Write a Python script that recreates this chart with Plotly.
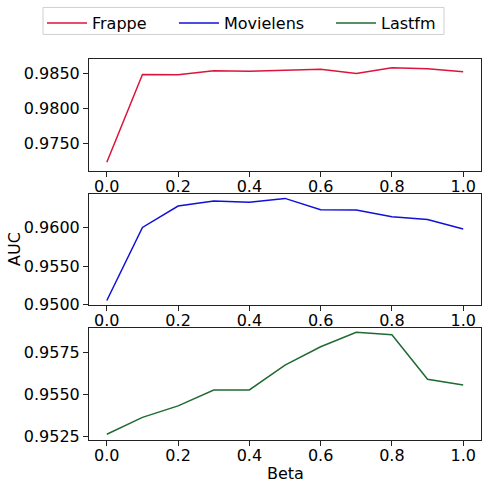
import plotly.graph_objects as go

# Beta values shared by all three datasets
beta = [0.0, 0.1, 0.2, 0.3, 0.4, 0.5, 0.6, 0.7, 0.8, 0.9, 1.0]

# AUC
frappe_auc = [0.97229, 0.98481, 0.98477, 0.98534, 0.98529, 0.98548,
              0.98557, 0.98496, 0.98577, 0.98563, 0.98520]
movielens_auc = [0.95056, 0.96000, 0.96277, 0.96341, 0.96324, 0.96375,
                 0.96229, 0.96225, 0.96138, 0.96103, 0.95979]
lastfm_auc = [0.95264, 0.95364, 0.95432, 0.95526, 0.95526, 0.95673,
              0.95782, 0.95868, 0.95853, 0.95589, 0.95555]

names = ["Frappe", "Movielens", "Lastfm"]
colors = ["#dc143c", "#1010d8", "#1f6b32"]
series = [frappe_auc, movielens_auc, lastfm_auc]

# per-panel y ticks and ranges
y_ticks = [[0.975, 0.980, 0.985], [0.950, 0.955, 0.960], [0.9525, 0.9550, 0.9575]]
y_ranges = [[0.9711, 0.98703], [0.9500, 0.96432], [0.9523, 0.95892]]
domains = [[0.707, 1.0], [0.3548, 0.6457], [0.0, 0.2936]]
# each legend entry gets its own legend so spacing matches the reference
legend_x = [42, 174, 331]

font = dict(family="DejaVu Sans", size=16, color="black")

fig = go.Figure()
for i, (name, col, vals) in enumerate(zip(names, colors, series)):
    n = "" if i == 0 else str(i + 1)
    fig.add_trace(go.Scatter(x=beta, y=vals, mode="lines", name=name,
                             line=dict(color=col, width=1.5),
                             xaxis="x" + n, yaxis="y" + n, legend="legend" + n))
    axis_common = dict(showline=True, mirror=True, linecolor="#222", linewidth=1,
                       ticks="outside", ticklen=5, tickcolor="#222",
                       showgrid=False, zeroline=False, tickfont=font)
    fig.layout["xaxis" + n] = dict(axis_common, anchor="y" + n, domain=[0, 1],
                                   range=[-0.05, 1.05], tickvals=[0, 0.2, 0.4, 0.6, 0.8, 1.0],
                                   tickformat=".1f", ticklabelstandoff=-4)
    fig.layout["yaxis" + n] = dict(axis_common, anchor="x" + n, domain=domains[i],
                                   range=y_ranges[i], tickvals=y_ticks[i],
                                   tickformat=".4f")
    fig.layout["legend" + n] = dict(x=legend_x[i] / 486, xref="container", xanchor="left",
                                    y=1 - 6 / 488, yref="container", yanchor="top",
                                    bgcolor="rgba(0,0,0,0)", borderwidth=0,
                                    font=font, itemwidth=40)

fig.update_layout(
    width=486, height=488,
    margin=dict(l=89, r=5, t=59, b=48, autoexpand=False),
    plot_bgcolor="white", paper_bgcolor="white",
    font=font,
    showlegend=True,
    shapes=[dict(type="rect", xref="paper", yref="paper",
                 x0=(43 - 89) / 392, x1=(444 - 89) / 392,
                 y0=(440 - 35) / 380.5, y1=(440 - 8) / 380.5,
                 line=dict(color="#d0d0d0", width=1), layer="below")],
    annotations=[
        dict(text="Beta", x=0.5, xref="paper", y=-0.0867, yref="paper",
             showarrow=False, yanchor="middle", font=font),
        dict(text="AUC", x=-0.19, xref="paper", y=0.5, yref="paper",
             showarrow=False, textangle=-90, xanchor="center", font=font),
    ],
)

# drop the browser's default body margin so the figure sits at the page corner
fig.write_html("out.html", post_script="document.body.style.margin='0';",
               config={"displayModeBar": False})
